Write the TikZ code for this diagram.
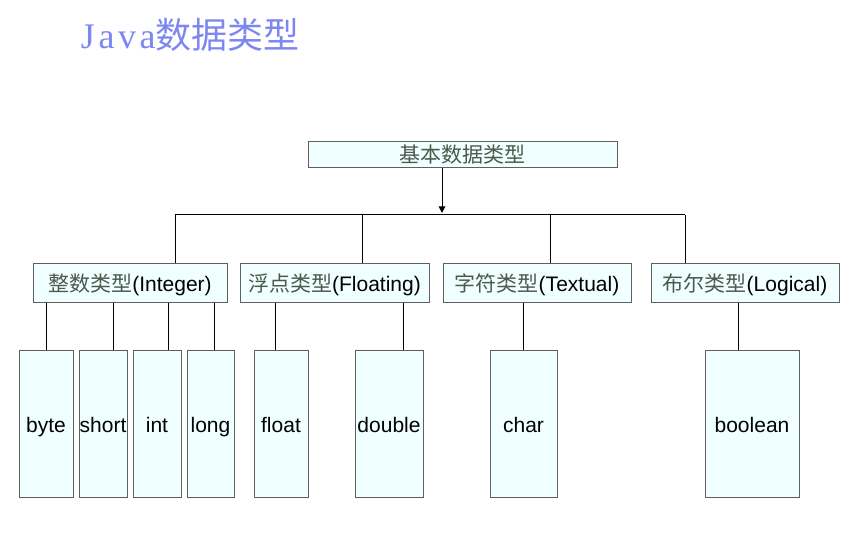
\documentclass[tikz,border=0pt]{standalone}
\usepackage{fontspec}
\setmainfont{Liberation Sans}
\newfontfamily\cjk{Noto Sans CJK SC}
\newfontfamily\titleserif[LetterSpace=10]{Liberation Serif}
\usetikzlibrary{arrows.meta}
\definecolor{boxfill}{RGB}{240,255,255}
\definecolor{boxline}{RGB}{95,95,95}
\definecolor{titleblue}{RGB}{125,135,240}
\definecolor{cjkgray}{RGB}{75,90,75}
\newcommand{\typenode}[6] % name, x1, y1, x2, y2 (px), label
{
	\node[typebox, minimum width={(#4-#2)*0.75pt}, minimum height={(#5-#3)*0.75pt}]
		(#1) at ({(#2+#4)/2},{(#3+#5)/2}) {#6};
}
\newcommand{\zh}[1]{{\cjk\color{cjkgray}#1}}

\begin{document}
\begin{tikzpicture}[x=0.75pt, y=-0.75pt, line width=0.75pt,
	every node/.style={font=\fontsize{15.75}{18}\selectfont},
	typebox/.style={draw=boxline, fill=boxfill, inner sep=0pt,
		text height=14.5pt, text depth=3pt}]
	% 857px x 548px canvas
	\useasboundingbox (0,0) rectangle (857,548);
	\node[anchor=west, text=titleblue, font=\fontsize{27}{30}\selectfont] (title) at (76,35)
		{{\titleserif Java}{\cjk 数据类型}};
	
	% root
	\typenode{top}{308}{142}{617}{168}{\zh{基本数据类型}};
	
	% second level
	\typenode{intg}{33}{264}{227}{303}{\zh{整数类型}(Integer)};
	\typenode{flt}{240}{264}{429}{303}{\zh{浮点类型}(Floating)};
	\typenode{txt}{443}{264}{631}{303}{\zh{字符类型}(Textual)};
	\typenode{lgc}{651}{264}{839}{303}{\zh{布尔类型}(Logical)};
	
	% leaves
	\typenode{byte}{19}{351}{73}{498}{byte};
	\typenode{short}{79}{351}{127}{498}{short};
	\typenode{int}{133}{351}{181}{498}{int};
	\typenode{long}{187}{351}{234}{498}{long};
	\typenode{float}{254}{351}{308}{498}{float};
	\typenode{double}{355}{351}{423}{498}{double};
	\typenode{char}{490}{351}{557}{498}{char};
	\typenode{boolean}{705}{351}{799}{498}{boolean};
	
	% connectors
	\coordinate (hub) at (442,215);
	\draw[-{Triangle[width=5pt,length=5pt]}] (top.south -| hub) -- ([yshift=1.5pt]hub);
	\draw (175,0 |- hub) -- (685,0 |- hub);
	\foreach \x/\n in {175/intg, 362/flt, 550/txt, 685/lgc}
		\draw (\x,0 |- hub) -- (\x,0 |- \n.north);
	\foreach \x/\n in {46/byte, 113/short, 168/int, 214/long}
		\draw (\x,0 |- intg.south) -- (\x,0 |- \n.north);
	\foreach \x/\n in {275/float, 403/double}
		\draw (\x,0 |- flt.south) -- (\x,0 |- \n.north);
	\draw (char.north |- txt.south) -- (char.north);
	\draw (738,0 |- lgc.south) -- (738,0 |- boolean.north);
	
\end{tikzpicture}
\end{document}
